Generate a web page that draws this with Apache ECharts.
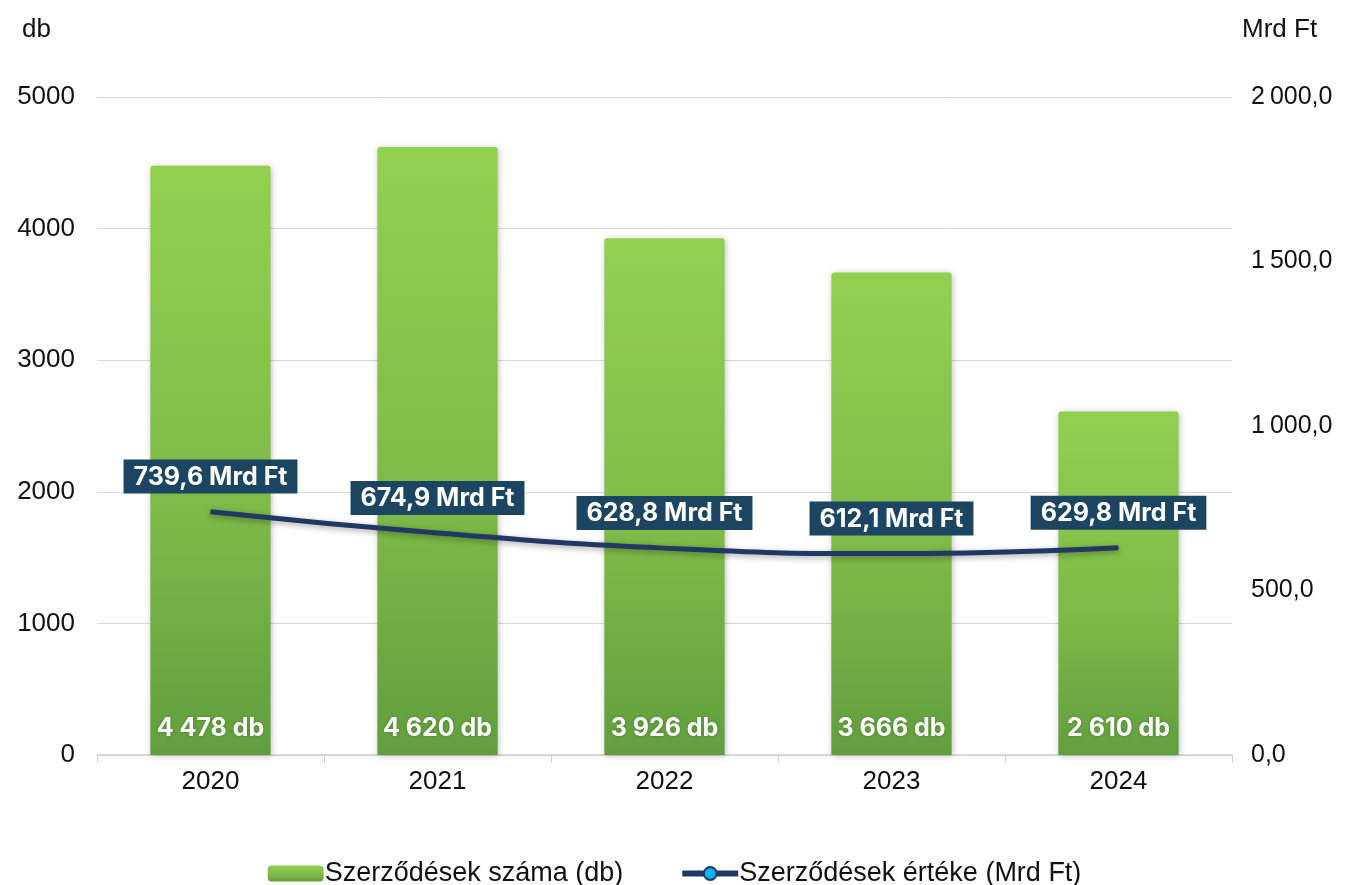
<!DOCTYPE html>
<html>
<head>
<meta charset="utf-8">
<script src="https://cdn.jsdelivr.net/npm/echarts@6/dist/echarts.min.js"></script>
<style>
	html, body { margin: 0; padding: 0; background: #fff; }
	#main { width: 1349px; height: 885px; }
</style>
</head>
<body>
<div id="main"></div>
<script>
	// adatok
	var years = ['2020', '2021', '2022', '2023', '2024'];
	var szerzodesDb = [4478, 4620, 3926, 3666, 2610];
	var szerzodesMrd = [739.6, 674.9, 628.8, 612.1, 629.8];

	// magyar számformátum: ezres tagolás szóközzel, tizedesvessző
	function huNum(v, dec, sep) {
		var s = v.toFixed(dec).split('.');
		var int = s[0].replace(/\B(?=(\d{3})+(?!\d))/g, sep || ' ');
		return dec > 0 ? int + ',' + s[1] : int;
	}

	var axisFont = '"Liberation Sans", Arial, sans-serif';
	var labelFont = 'Inter, "Noto Sans", sans-serif';
	var myChart = echarts.init(document.getElementById('main'));

	myChart.setOption({
		backgroundColor: '#fff',
		textStyle: { fontFamily: axisFont },
		grid: { left: 97, right: 117, top: 97, bottom: 130, outerBoundsMode: 'none', containLabel: false },
		legend: {
			bottom: -7,
			left: 'center',
			itemGap: 56,
			itemWidth: 56,
			itemHeight: 16,
			textStyle: { fontSize: 27, color: '#111', fontFamily: axisFont, padding: [0, 0, 0, -4] },
			data: [
				{ name: 'Szerződések száma (db)', icon: 'roundRect' },
				{ name: 'Szerződések értéke (Mrd Ft)', lineStyle: { width: 6 }, itemStyle: { borderWidth: 2 } }
			]
		},
		xAxis: {
			type: 'category',
			data: years,
			axisLine: { lineStyle: { color: '#d0d0d0', width: 1.5 } },
			axisTick: { show: true, length: 8, lineStyle: { color: '#d0d0d0' } },
			axisLabel: { fontSize: 26, color: '#111', margin: 14 }
		},
		yAxis: [
			{
				type: 'value',
				min: 0, max: 5000, interval: 1000,
				name: 'db',
				nameLocation: 'end',
				nameGap: 0,
				nameTextStyle: { fontSize: 26, color: '#111', align: 'right', padding: [0, 46, 54, 0] },
				axisLine: { show: false },
				axisTick: { show: false },
				splitLine: { lineStyle: { color: '#d9d9d9', width: 1 } },
				axisLabel: {
					fontSize: 26, color: '#111', margin: 22,
					formatter: function (v) { return String(v); }
				}
			},
			{
				type: 'value',
				min: 0, max: 2000, interval: 500,
				name: 'Mrd Ft',
				nameLocation: 'end',
				nameGap: 0,
				nameTextStyle: { fontSize: 26, color: '#111', align: 'left', padding: [0, 0, 54, 10] },
				axisLine: { show: false },
				axisTick: { show: false },
				splitLine: { show: false },
				axisLabel: {
					fontSize: 25, color: '#111', margin: 19,
					formatter: function (v) { return huNum(v, 1, '\u2009'); }
				}
			}
		],
		series: [
			{
				name: 'Szerződések száma (db)',
				type: 'bar',
				barWidth: '53%',
				data: szerzodesDb,
				itemStyle: {
					color: new echarts.graphic.LinearGradient(0, 0, 0, 1, [
						{ offset: 0, color: '#92D050' },
						{ offset: 0.6, color: '#7DB947' },
						{ offset: 1, color: '#619E3E' }
					]),
					borderRadius: [3, 3, 0, 0],
					shadowBlur: 6,
					shadowColor: 'rgba(0,0,0,0.25)',
					shadowOffsetX: 1,
					shadowOffsetY: 1
				},
				label: {
					show: true,
					position: 'insideBottom',
					distance: 14,
					color: '#fff',
					fontFamily: labelFont,
					fontSize: 25,
					fontWeight: 'bold',
					textShadowColor: 'rgba(0,0,0,0.25)',
					textShadowBlur: 3,
					formatter: function (p) { return huNum(p.value, 0) + ' db'; }
				},
				z: 1
			},
			{
				name: 'Szerződések értéke (Mrd Ft)',
				type: 'line',
				yAxisIndex: 1,
				smooth: true,
				data: szerzodesMrd,
				symbol: 'circle',
				symbolSize: 0.1,
				showSymbol: true,
				lineStyle: {
					color: '#1F3864',
					width: 5,
					shadowBlur: 6,
					shadowColor: 'rgba(0,0,0,0.35)',
					shadowOffsetY: 2
				},
				itemStyle: { color: '#00B0F0', borderColor: '#1F3864', borderWidth: 2 },
				label: {
					show: true,
					position: 'top',
					distance: 17,
					color: '#fff',
					fontFamily: labelFont,
					fontSize: 25,
					fontWeight: 'bold',
					backgroundColor: '#1B4560',
					padding: [5, 10, 4, 10],
					formatter: function (p) { return huNum(p.value, 1) + ' Mrd Ft'; }
				},
				z: 3
			}
		]
	});
</script>
</body>
</html>
